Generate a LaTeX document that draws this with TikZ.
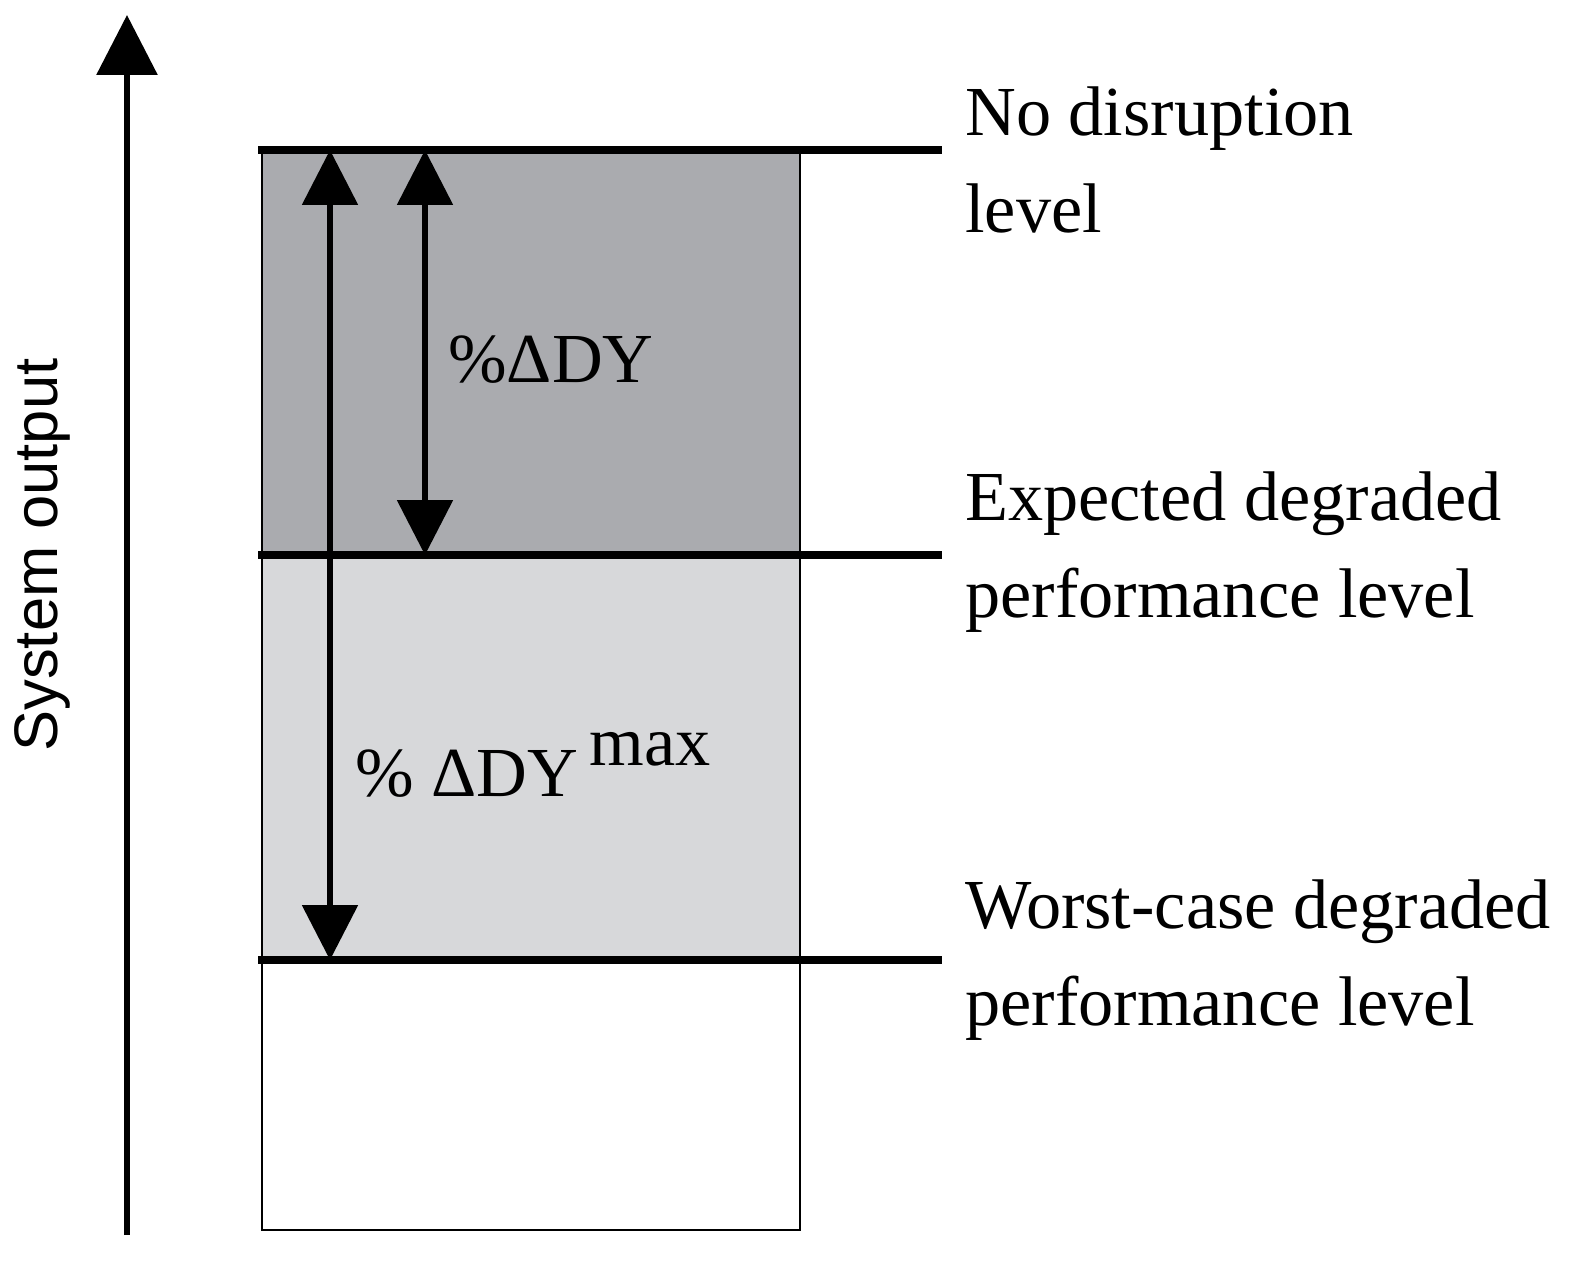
\documentclass[tikz,border=0pt]{standalone}
\usepackage{fontspec}
\setmainfont{Liberation Serif}
\newfontfamily\sansf{Liberation Sans}
\usetikzlibrary{arrows.meta}
\begin{document}
\begin{tikzpicture}[x=0.02cm,y=-0.02cm,
  level/.style={line width=4pt},
  dim/.style={line width=3.2pt,{Triangle[width=1.1cm,length=1.1cm]}-{Triangle[width=1.1cm,length=1.1cm]}},
  lab/.style={anchor=west,align=left,font=\fontsize{40}{55}\selectfont,inner sep=0pt}]
\useasboundingbox (0,0) rectangle (1596,1277);
\fill[fill={rgb,255:red,170;green,171;blue,175}] (262,150) rectangle (800,555);
\fill[fill={rgb,255:red,215;green,216;blue,218}] (262,555) rectangle (800,960);
\draw[line width=1.2pt] (262,150) rectangle (800,1230);
\coordinate (ab) at (127,1235); \coordinate (at) at (127,15);
\draw[line width=3.5pt,-{Triangle[width=1.2cm,length=1.2cm]}] (ab) -- (at);
\node[rotate=90,font=\sansf\fontsize{35}{40}\selectfont] (yl) at (42,555) {System output};
\foreach \n/\y in {l1/150,l2/555,l3/960}{
  \coordinate (\n a) at (258,\y); \coordinate (\n b) at (942,\y);
  \draw[level] (\n a) -- (\n b);}
\coordinate (d1t) at (330,150); \coordinate (d1b) at (330,960);
\coordinate (d2t) at (425,150); \coordinate (d2b) at (425,555);
\draw[dim] (d1t) -- (d1b);
\draw[dim] (d2t) -- (d2b);
\node[anchor=west,inner sep=0pt,font=\fontsize{40}{40}\selectfont] (t1) at (448,360) {\%ΔDY};
\node[anchor=west,inner sep=0pt,font=\fontsize{40}{40}\selectfont] (t2) at (355,765) {\% ΔDY\,\raisebox{0.45em}{max}};
\node[lab] (n1) at (965,160) {No disruption\\level};
\node[lab] (n2) at (965,552) {Expected degraded\\performance level};
\node[lab] (n3) at (965,960) {Worst-case degraded\\performance level};
\end{tikzpicture}
\end{document}
